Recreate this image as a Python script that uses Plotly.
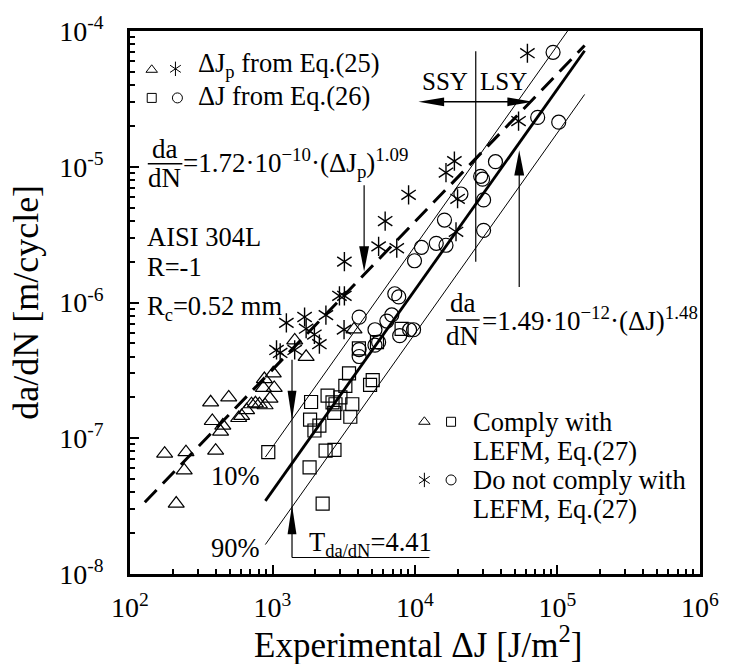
import plotly.graph_objects as go

# ---------------- data ----------------
# Delta J_p from Eq.(25), complying with LEFM (triangles)
tri_x = [175, 247, 399, 240, 211, 368, 493, 378, 432, 448, 579, 607, 658, 712, 759,
         809, 887, 960, 863, 1028, 877, 1012, 1432, 1722, 3732]
tri_y = [7.7e-8, 7.9e-8, 8.1e-8, 5.8e-8, 3.3e-8, 1.84e-7, 2.0e-7, 1.34e-7, 1.12e-7,
         1.24e-7, 1.41e-7, 1.46e-7, 1.61e-7, 1.78e-7, 1.81e-7, 1.78e-7, 1.75e-7,
         1.96e-7, 2.35e-7, 2.35e-7, 2.73e-7, 3.01e-7, 5.26e-7, 3.98e-7, 6.34e-7]
# Delta J_p from Eq.(25), not complying with LEFM (asterisks)
st_x = [61500, 53300, 18900, 16500, 9015, 19900, 19400, 6174, 5555, 7447, 3195, 2950,
        3195, 2370, 1251, 1679, 1722, 1968, 2133, 1067, 1431, 3178, 1132]
st_y = [6.86e-5, 2.17e-5, 1.10e-5, 9.06e-6, 6.21e-6, 5.81e-6, 3.32e-6, 3.98e-6, 2.59e-6,
        2.51e-6, 2.0e-6, 1.12e-6, 1.12e-6, 8.07e-7, 7.08e-7, 7.82e-7, 6.41e-7, 5.81e-7,
        4.93e-7, 4.47e-7, 4.47e-7, 6.31e-7, 4.25e-7]
# Delta J from Eq.(26), complying with LEFM (squares)
sq_x = [934, 1865, 1835, 1969, 2133, 2435, 2637, 2767, 2710, 2997, 3245, 3443, 3630,
        3516, 2358, 2722, 1820, 2248, 4039, 5410, 5050, 4838, 8054]
sq_y = [7.9e-8, 1.85e-7, 1.37e-7, 1.14e-7, 1.24e-7, 2.06e-7, 1.84e-7, 1.78e-7, 1.54e-7,
        2.0e-7, 2.43e-7, 3.01e-7, 1.78e-7, 1.44e-7, 8.1e-8, 8.2e-8, 6.1e-8, 3.3e-8,
        4.6e-7, 5.1e-7, 2.68e-7, 2.47e-7, 6.4e-7]
# Delta J from Eq.(26), not complying with LEFM (circles)
ci_x = [4055, 7211, 7691, 6873, 6344, 5237, 5555, 4055, 4055, 7808, 9163, 5237, 9772,
        9920, 11100, 14100, 16500, 16100, 21000, 28900, 29800, 36700, 30300, 30300,
        72600, 102000, 93100]
ci_y = [7.8e-7, 1.16e-6, 1.10e-6, 8.1e-7, 7.3e-7, 6.3e-7, 5.1e-7, 4.5e-7, 4.0e-7,
        5.7e-7, 6.3e-7, 4.85e-7, 6.3e-7, 2.03e-6, 2.55e-6, 2.73e-6, 2.64e-6, 4.05e-6,
        6.3e-6, 8.5e-6, 8.1e-6, 1.09e-5, 5.7e-6, 3.4e-6, 2.31e-5, 2.13e-5, 6.97e-5]

# fitted laws given on the chart
C_J, m_J = 1.49e-12, 1.48      # da/dN = C (dJ)^m
C_Jp, m_Jp = 1.72e-10, 1.09    # da/dN = C (dJp)^m
T_scatter = 4.41               # T_da/dN between 10% and 90% bands
fit_J_range = [891, 155000]
fit_J10_range = [891, 118000]
fit_Jp_range = [127, 155000]

x_ticks = [1e2, 1e3, 1e4, 1e5, 1e6]
x_ticktext = ["10<sup>2</sup>", "10<sup>3</sup>", "10<sup>4</sup>", "10<sup>5</sup>", "10<sup>6</sup>"]
y_ticks = [1e-8, 1e-7, 1e-6, 1e-5, 1e-4]
y_ticktext = ["10<sup>-8</sup>", "10<sup>-7</sup>", "10<sup>-6</sup>", "10<sup>-5</sup>", "10<sup>-4</sup>"]

# ---------------- layout helpers (pixel -> paper) ----------------
W, H = 731, 664
X0, X1, Y0, Y1 = 130, 707, 14, 574
FONT = "Liberation Serif"


def px(x):
    return (x - X0) / (X1 - X0)


def py(y):
    return (Y1 - y) / (Y1 - Y0)


def law(C, m, xs):
    return [C * x ** m for x in xs]


band = T_scatter ** 0.5
fig = go.Figure()

# fitted lines
fig.add_trace(go.Scatter(x=fit_Jp_range, y=law(C_Jp, m_Jp, fit_Jp_range), mode="lines",
                         line=dict(color="black", width=3, dash="17px,9px")))
fig.add_trace(go.Scatter(x=fit_J_range, y=law(C_J, m_J, fit_J_range), mode="lines",
                         line=dict(color="black", width=2.8)))
fig.add_trace(go.Scatter(x=fit_J10_range, y=law(C_J * band, m_J, fit_J10_range), mode="lines",
                         line=dict(color="black", width=1)))
fig.add_trace(go.Scatter(x=fit_J_range, y=law(C_J / band, m_J, fit_J_range), mode="lines",
                         line=dict(color="black", width=1)))

mk = dict(color="black", width=1.2)
fig.add_trace(go.Scatter(x=tri_x, y=tri_y, mode="markers",
                         marker=dict(symbol="triangle-up-open", size=14, color="black", line=mk)))
fig.add_trace(go.Scatter(x=sq_x, y=sq_y, mode="markers",
                         marker=dict(symbol="square-open", size=13, color="black", line=mk)))
fig.add_trace(go.Scatter(x=ci_x, y=ci_y, mode="markers",
                         marker=dict(symbol="circle-open", size=14, color="black", line=mk)))
for sym in ["y-up-open", "y-down-open"]:
    fig.add_trace(go.Scatter(x=st_x, y=st_y, mode="markers",
                             marker=dict(symbol=sym, size=12, color="black",
                                         line=dict(color="black", width=1.4))))


# legend keys on an overlay axis in plot-fraction units
def key(xp, yp, sym, size):
    syms = [sym] if sym != "star" else ["y-up-open", "y-down-open"]
    for s in syms:
        fig.add_trace(go.Scatter(x=[px(xp)], y=[py(yp)], xaxis="x2", yaxis="y2", mode="markers",
                                 marker=dict(symbol=s, size=size, color="black",
                                             line=dict(color="black", width=1))))


key(152, 54, "triangle-up-open", 10)
key(176, 53, "star", 9)
key(152, 83, "square-open", 9)
key(178, 83, "circle-open", 10)
key(428, 417, "triangle-up-open", 10)
key(455, 417, "square-open", 9)
key(428, 477, "star", 9)
key(455, 477, "circle-open", 10)

shapes = []


def line(x0, y0, x1, y1, w=1.2):
    shapes.append(dict(type="line", xref="paper", yref="paper", x0=px(x0), y0=py(y0),
                       x1=px(x1), y1=py(y1), line=dict(color="black", width=w)))


def head(tx, ty, dx, dy, L=25, Wd=9):
    bx, by = tx - L * dx, ty - L * dy
    nx, ny = -dy, dx
    p1 = (bx + Wd / 2 * nx, by + Wd / 2 * ny)
    p2 = (bx - Wd / 2 * nx, by - Wd / 2 * ny)
    path = "M {},{} L {},{} L {},{} Z".format(px(tx), py(ty), px(p1[0]), py(p1[1]),
                                              px(p2[0]), py(p2[1]))
    shapes.append(dict(type="path", xref="paper", yref="paper", path=path,
                       fillcolor="black", line=dict(width=0)))


# fraction bars
line(148, 151, 183, 151, 1.5)
line(450, 312, 484, 312, 1.5)
# SSY/LSY
line(480, 35, 480, 252)
line(430, 87, 530, 87, 1.5)
head(422, 87, -1, 0, 26, 9)
head(538, 87, 1, 0, 26, 9)
# arrow to dashed law
line(367, 173, 367, 245)
head(367, 262, 0, 1, 26, 10)
# arrow to solid law
line(524, 278, 524, 155)
head(524, 137, 0, -1, 26, 10)
# scatter band T
line(294, 353, 294, 557)
line(294, 557, 433, 557)
head(294, 415, 0, 1, 30, 9)
head(294, 503, 0, -1, 30, 9)

ann = []


def text(x, y, s, size=26.5, xanchor="left", yanchor="middle", angle=0):
    ann.append(dict(x=px(x), y=py(y), xref="paper", yref="paper", text=s, showarrow=False,
                    xanchor=xanchor, yanchor=yanchor, textangle=angle,
                    font=dict(family=FONT, size=size, color="black")))


text(197, 49, "ΔJ<sub>p</sub> from Eq.(25)")
text(197, 81, "ΔJ from Eq.(26)")
text(165, 136, "da", size=27, xanchor="center")
text(165, 166, "dN", size=27, xanchor="center")
text(182, 150, "=1.72·10<sup>−10</sup>·(ΔJ<sub>p</sub>)<sup>1.09</sup>", size=27)
text(467, 294, "da", size=27, xanchor="center")
text(467, 329, "dN", size=27, xanchor="center")
text(484, 311, "=1.49·10<sup>−12</sup>·(ΔJ)<sup>1.48</sup>", size=27)
text(449, 66, "SSY", size=25, xanchor="center")
text(508, 66, "LSY", size=25, xanchor="center")
text(145, 226, "AISI 304L")
text(145, 257, "R=-1")
text(145, 300, "R<sub>c</sub>=0.52 mm")
text(237, 473, "10%", xanchor="center")
text(237, 547, "90%", xanchor="center")
text(309, 543, "T<sub>da/dN</sub>=4.41")
text(475, 417, "Comply with")
text(475, 447, "LEFM, Eq.(27)")
text(475, 477, "Do not comply with")
text(475, 507, "LEFM, Eq.(27)")
# axis titles
text(422, 645, "Experimental ΔJ [J/m<sup>2</sup>]", size=35, xanchor="center")
text(24, 294, "da/dN [m/cycle]", size=36, xanchor="center", angle=-90)

minor_x = [m * 10 ** e for e in range(2, 6) for m in range(2, 10)]
minor_y = [m * 10.0 ** e for e in range(-8, -4) for m in range(2, 10)]

fig.update_layout(
    width=W, height=H, margin=dict(l=X0, r=W - X1, t=Y0, b=H - Y1),
    paper_bgcolor="white", plot_bgcolor="white", showlegend=False, hovermode=False,
    shapes=shapes, annotations=ann,
    xaxis=dict(type="log", range=[1.9999, 6.0001], tickmode="array", tickvals=x_ticks,
               ticktext=x_ticktext, ticklabeloverflow="allow",
               ticks="inside", ticklen=9, tickwidth=2, tickcolor="black",
               showline=True, linewidth=2.5, linecolor="black", mirror=True, showgrid=False,
               zeroline=False, ticklabelstandoff=7,
               tickfont=dict(family=FONT, size=28, color="black"),
               minor=dict(tickmode="array", tickvals=minor_x, ticks="inside", ticklen=5,
                          tickwidth=1.5, tickcolor="black", showgrid=False)),
    yaxis=dict(type="log", range=[-8.0001, -3.9999], tickmode="array", tickvals=y_ticks,
               ticktext=y_ticktext, ticklabeloverflow="allow",
               ticks="inside", ticklen=9, tickwidth=2, tickcolor="black",
               showline=True, linewidth=2.5, linecolor="black", mirror=True, showgrid=False,
               zeroline=False, ticklabelstandoff=18,
               tickfont=dict(family=FONT, size=28, color="black"),
               minor=dict(tickmode="array", tickvals=minor_y, ticks="inside", ticklen=5,
                          tickwidth=1.5, tickcolor="black", showgrid=False)),
    xaxis2=dict(overlaying="x", range=[0, 1], visible=False, fixedrange=True),
    yaxis2=dict(overlaying="y", range=[0, 1], visible=False, fixedrange=True),
)

fig.write_html("out.html")
